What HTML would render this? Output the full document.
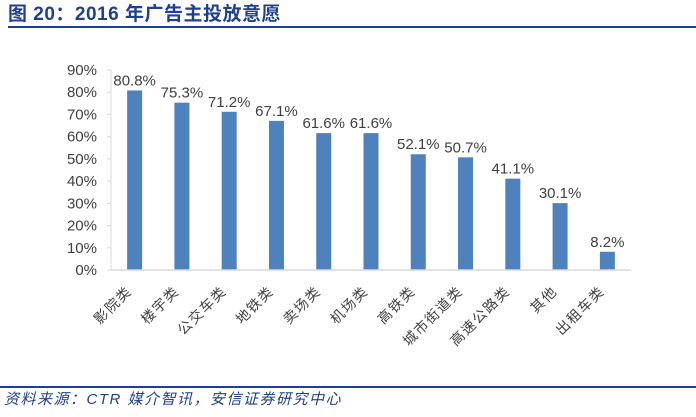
<!DOCTYPE html>
<html><head><meta charset="utf-8"><style>
body{margin:0;width:696px;height:412px;background:#fff;overflow:hidden;font-family:"Liberation Sans","Noto Sans CJK SC",sans-serif;}
</style></head><body>
<svg width="696" height="412" xmlns="http://www.w3.org/2000/svg">
<text x="8" y="20" font-size="19" font-weight="bold" fill="#1f3f8f" letter-spacing="0.5" font-family="Liberation Sans,Noto Sans CJK SC,sans-serif">图 20：2016 年广告主投放意愿</text>
<rect x="8" y="26" width="688" height="2" fill="#1f3f8f"/>
<g id="plot"></g>
<rect x="0" y="386" width="696" height="2" fill="#1f3f8f"/>
<text x="4" y="404" font-size="15" font-style="italic" fill="#1f3f8f" letter-spacing="1.5" font-family="Liberation Sans,Noto Sans CJK SC,sans-serif">资料来源：CTR 媒介智讯，安信证券研究中心</text>
</svg>
<script>
const categories=["影院类","楼宇类","公交车类","地铁类","卖场类","机场类","高铁类","城市街道类","高速公路类","其他","出租车类"];
const values=[80.8,75.3,71.2,67.1,61.6,61.6,52.1,50.7,41.1,30.1,8.2];
const tickLabels=["0%","10%","20%","30%","40%","50%","60%","70%","80%","90%"];
const ns="http://www.w3.org/2000/svg";
const g=document.getElementById('plot');
const x0=111,x1=631,y0=270,yTop=70,maxV=90;
const band=(x1-x0)/categories.length;
const yS=v=>y0-(v/maxV)*(y0-yTop);
const xC=i=>x0+band*(i+0.5);
function mk(t,a){const e=document.createElementNS(ns,t);for(const k in a)e.setAttribute(k,a[k]);g.appendChild(e);return e;}
tickLabels.forEach((t,i)=>{
 const y=yS(i*10);
 const tk=mk('line',{x1:x0-4,x2:x0,y1:y,y2:y,stroke:'#d9d9d9'});
 
 
 const tx=mk('text',{x:97,y:y+5,'text-anchor':'end','font-size':15,fill:'#404040'});
 tx.textContent=t;
 
 
});
const ya=mk('line',{x1:x0,x2:x0,y1:yTop,y2:y0,stroke:'#d9d9d9'});


values.forEach((v,i)=>{
 const cx=xC(i);
 const r=mk('rect',{x:cx-7.5,y:yS(v),width:15,height:y0-yS(v),fill:'#4f81bd'});
 
 
 const t=mk('text',{x:cx,y:yS(v)-5,'text-anchor':'middle','font-size':15,fill:'#404040'});
 t.textContent=v.toFixed(1)+'%';
 
 
 const l=mk('text',{x:0,y:0,'text-anchor':'end','font-size':14,'letter-spacing':'1.5',fill:'#404040',transform:`translate(${cx-2},${y0+22}) rotate(-45)`});
 l.textContent=categories[i];
 
 
});
const xa=mk('line',{x1:x0,x2:x1,y1:y0,y2:y0,stroke:'#d9d9d9','stroke-width':1.5});


</script>
</body></html>
